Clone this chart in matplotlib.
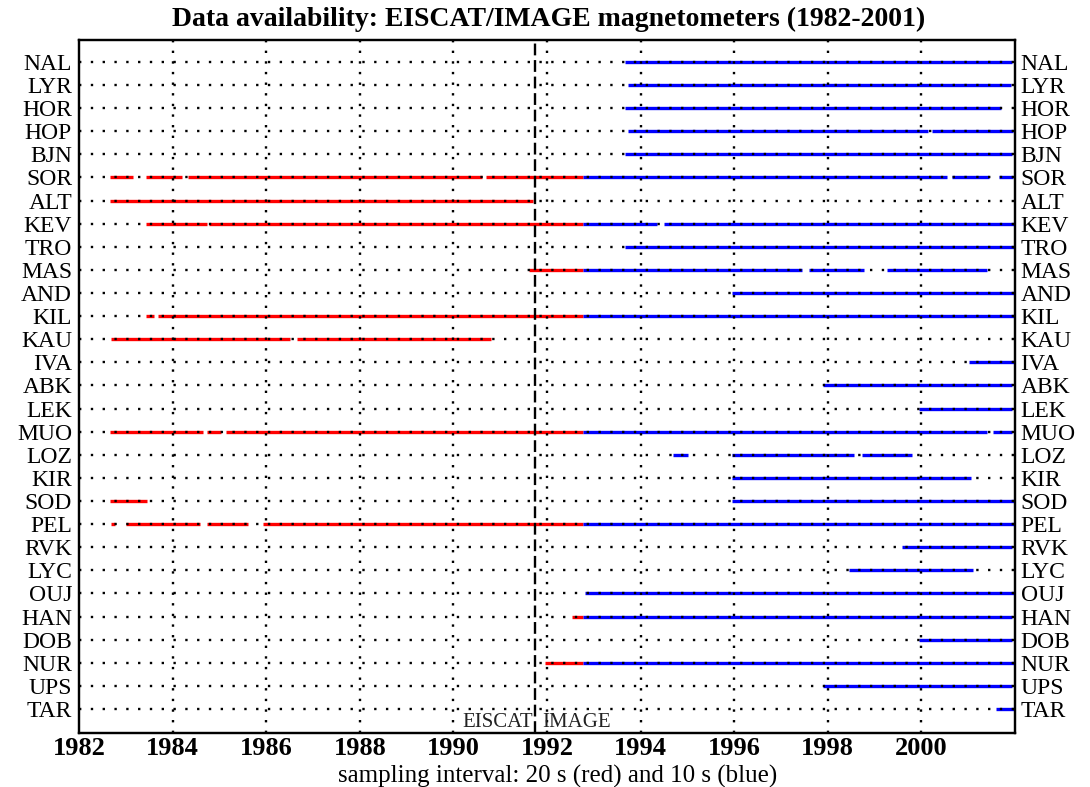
import matplotlib
matplotlib.use("Agg")
import matplotlib.pyplot as plt
from matplotlib.transforms import blended_transform_factory

plt.rcParams['font.family'] = ['Liberation Serif', 'DejaVu Serif']

# station codes, top to bottom
stations = ["NAL", "LYR", "HOR", "HOP", "BJN", "SOR", "ALT", "KEV", "TRO", "MAS",
            "AND", "KIL", "KAU", "IVA", "ABK", "LEK", "MUO", "LOZ", "KIR", "SOD",
            "PEL", "RVK", "LYC", "OUJ", "HAN", "DOB", "NUR", "UPS", "TAR"]

# data periods (start, end) in decimal years, one list per station
red_periods = [
    [], [], [], [], [],
    [(1982.66, 1983.15), (1983.43, 1984.20), (1984.33, 1990.62), (1990.70, 1992.77)],  # SOR
    [(1982.66, 1991.70)],                                                          # ALT
    [(1983.43, 1984.73), (1984.78, 1992.77)],                                      # KEV
    [],
    [(1991.62, 1992.77)],                                                          # MAS
    [],
    [(1983.43, 1983.60), (1983.69, 1992.77)],                                      # KIL
    [(1982.68, 1986.51), (1986.66, 1990.80)],                                      # KAU
    [], [], [],
    [(1982.66, 1984.65), (1984.73, 1985.03), (1985.14, 1992.77)],                  # MUO
    [], [],
    [(1982.66, 1983.45)],                                                          # SOD
    [(1982.68, 1982.77), (1983.00, 1984.59), (1984.73, 1985.62), (1985.93, 1992.77)],  # PEL
    [], [], [],
    [(1992.53, 1992.77)],                                                          # HAN
    [],
    [(1991.96, 1992.77)],                                                          # NUR
    [], [],
]

blue_periods = [
    [(1993.67, 2001.94)],                                                          # NAL
    [(1993.73, 2001.91)],                                                          # LYR
    [(1993.67, 2001.70)],                                                          # HOR
    [(1993.73, 2000.14), (2000.23, 2001.96)],                                      # HOP
    [(1993.67, 2001.94)],                                                          # BJN
    [(1992.77, 2000.55), (2000.65, 2001.44), (2001.66, 2001.96)],                  # SOR
    [],                                                                            # ALT
    [(1992.77, 1994.35), (1994.50, 2002.0)],                                       # KEV
    [(1993.67, 2002.0)],                                                           # TRO
    [(1992.77, 1997.45), (1997.60, 1998.77), (1999.26, 2001.40)],                  # MAS
    [(1995.95, 2002.0)],                                                           # AND
    [(1992.77, 2002.0)],                                                           # KIL
    [],                                                                            # KAU
    [(2001.02, 2002.0)],                                                           # IVA
    [(1997.90, 2001.94)],                                                          # ABK
    [(1999.95, 2001.94)],                                                          # LEK
    [(1992.77, 2001.40), (2001.53, 2001.94)],                                      # MUO
    [(1994.69, 1995.01), (1995.95, 1998.56), (1998.73, 1999.80)],                  # LOZ
    [(1995.95, 2001.06)],                                                          # KIR
    [(1995.95, 2002.0)],                                                           # SOD
    [(1992.77, 2002.0)],                                                           # PEL
    [(1999.59, 2001.94)],                                                          # RVK
    [(1998.45, 2001.10)],                                                          # LYC
    [(1992.81, 2002.0)],                                                           # OUJ
    [(1992.77, 2001.94)],                                                          # HAN
    [(1999.95, 2001.94)],                                                          # DOB
    [(1992.77, 2002.0)],                                                           # NUR
    [(1997.90, 2001.94)],                                                          # UPS
    [(2001.60, 2002.0)],                                                           # TAR
]

year_ticks = list(range(1982, 2001, 2))
eiscat_image_split = 1991.75

fig = plt.figure(figsize=(10.9, 7.87), dpi=100)
ax = fig.add_axes([0.0725, 0.0686, 0.8587, 0.8806])

# availability bars
for i, segs in enumerate(red_periods):
    for s, e in segs:
        ax.hlines(i, s, e, color="#ff0000", lw=2.4, zorder=2)
for i, segs in enumerate(blue_periods):
    for s, e in segs:
        ax.hlines(i, s, e, color="#0000ff", lw=2.4, zorder=2)

# dotted grid, drawn on top of the bars
for i in range(len(stations)):
    ax.axhline(i, color="black", lw=1.7, linestyle=(0, (1, 4)), zorder=3)
for yr in year_ticks[1:]:
    ax.axvline(yr, color="black", lw=1.7, linestyle=(0, (1, 3.5)), zorder=3)
ax.axvline(eiscat_image_split, color="black", lw=1.7, linestyle=(0, (5, 2)), zorder=3)

ax.set_xlim(1982, 2002)
ax.set_ylim(len(stations) - 1 + 1.04, -0.95)

ax.set_yticks(range(len(stations)))
ax.set_yticklabels(stations, fontsize=17)
ax.set_xticks(year_ticks)
ax.set_xticklabels([str(y) for y in year_ticks], fontsize=19, fontweight="bold")
ax.tick_params(axis="both", length=0)
ax.tick_params(axis="y", pad=5)
ax.tick_params(axis="x", pad=3)

ax2 = ax.twinx()
ax2.set_ylim(ax.get_ylim())
ax2.set_yticks(range(len(stations)))
ax2.set_yticklabels(stations, fontsize=17)
ax2.tick_params(axis="y", length=0, pad=4)

for a in (ax, ax2):
    for sp in a.spines.values():
        sp.set_linewidth(1.6)

trans = blended_transform_factory(ax.transData, ax.transData)
ax.text(eiscat_image_split - 0.05, 28.6, "EISCAT", ha="right", va="center",
        fontsize=15, color="#222222", transform=trans)
ax.text(eiscat_image_split + 0.14, 28.6, "IMAGE", ha="left", va="center",
        fontsize=15, color="#222222", transform=trans)

fig.text(0.503, 0.975, "Data availability: EISCAT/IMAGE magnetometers (1982-2001)",
         ha="center", va="center", fontsize=20, fontweight="bold")
fig.text(0.512, 0.013, "sampling interval: 20 s (red) and 10 s (blue)",
         ha="center", va="center", fontsize=18)

fig.savefig("out.png", dpi=100)
